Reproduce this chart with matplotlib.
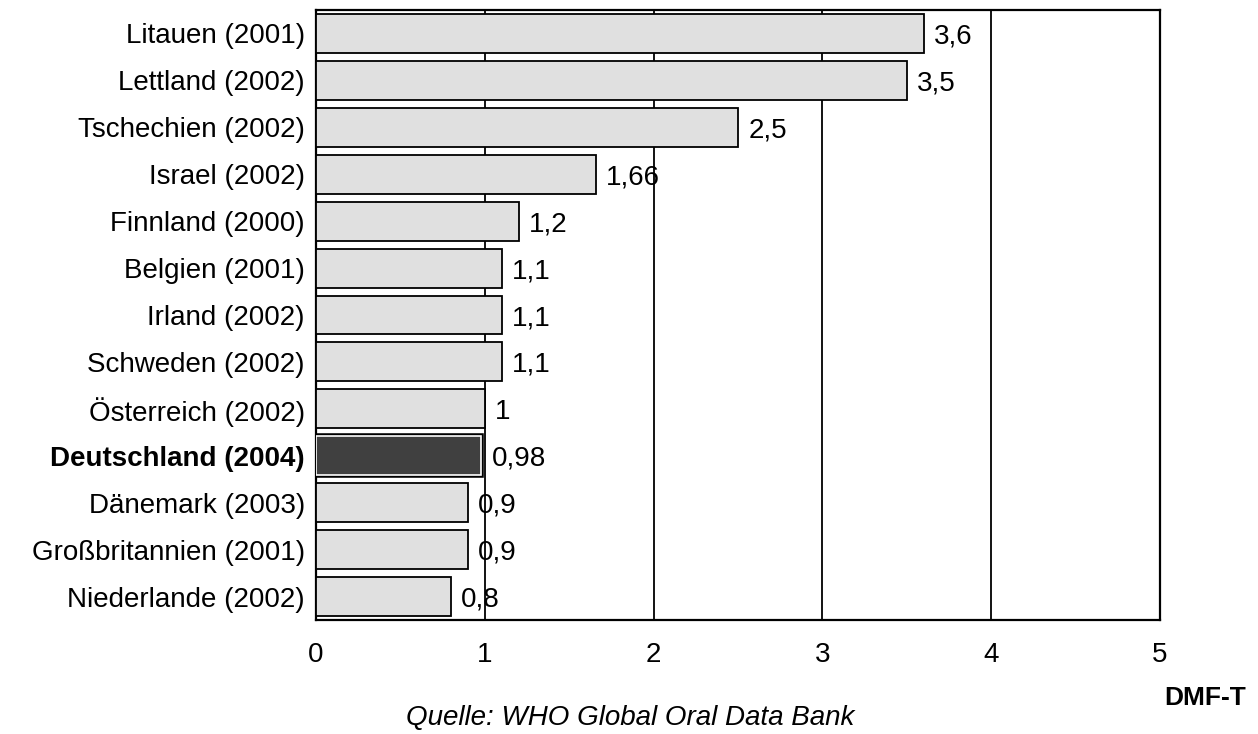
import matplotlib
matplotlib.use("Agg")
import matplotlib.pyplot as plt

plt.rcParams['font.family'] = ['Liberation Sans', 'DejaVu Sans']

countries = ["Litauen (2001)", "Lettland (2002)", "Tschechien (2002)", "Israel (2002)",
             "Finnland (2000)", "Belgien (2001)", "Irland (2002)", "Schweden (2002)",
             "Österreich (2002)", "Deutschland (2004)", "Dänemark (2003)",
             "Großbritannien (2001)", "Niederlande (2002)"]
values = [3.6, 3.5, 2.5, 1.66, 1.2, 1.1, 1.1, 1.1, 1.0, 0.98, 0.9, 0.9, 0.8]
value_labels = ["3,6", "3,5", "2,5", "1,66", "1,2", "1,1", "1,1", "1,1", "1", "0,98",
                "0,9", "0,9", "0,8"]
highlight = "Deutschland (2004)"
xticks = [0, 1, 2, 3, 4, 5]

FS = 20

fig = plt.figure(figsize=(12.58, 7.34), dpi=100)
ax = fig.add_axes([316 / 1258, 1 - 620 / 734, 844 / 1258, 610 / 734])

n = len(countries)
ypos = list(range(n))
for y, name, v, lab in zip(ypos, countries, values, value_labels):
    if name == highlight:
        ax.barh(y, v, height=0.83, color="#404040", edgecolor="black", linewidth=4, zorder=3)
        ax.barh(y, v, height=0.83, color="#404040", edgecolor="white", linewidth=1.2, zorder=3)
    else:
        ax.barh(y, v, height=0.83, color="#e0e0e0", edgecolor="black", linewidth=1.3, zorder=3)
    ax.text(v + 0.06, y, lab, va="center_baseline", ha="left", fontsize=FS, zorder=4)

ax.set_ylim(n - 0.5, -0.5)
ax.set_xlim(0, 5)
ax.set_xticks(xticks)
ax.set_xticklabels([str(t) for t in xticks], fontsize=FS)
ax.tick_params(axis="x", length=0, pad=16)
ax.tick_params(axis="y", length=0, pad=8)
ax.set_yticks(ypos)
ax.set_yticklabels(countries, fontsize=FS, va="center_baseline")
for lbl in ax.get_yticklabels():
    if lbl.get_text() == highlight:
        lbl.set_fontweight("bold")
        lbl.set_x(lbl.get_position()[0])

for gx in [1, 2, 3, 4]:
    ax.axvline(gx, color="black", linewidth=1.3, zorder=1)
for s in ax.spines.values():
    s.set_linewidth(1.6)

fig.text(1205 / 1258, 1 - 698 / 734, "DMF-T", fontsize=FS - 1, fontweight="bold",
         ha="center", va="center")
fig.text(630 / 1258, 1 - 718 / 734, "Quelle: WHO Global Oral Data Bank", fontsize=FS,
         style="italic", ha="center", va="center")

fig.savefig("out.png", dpi=100)
